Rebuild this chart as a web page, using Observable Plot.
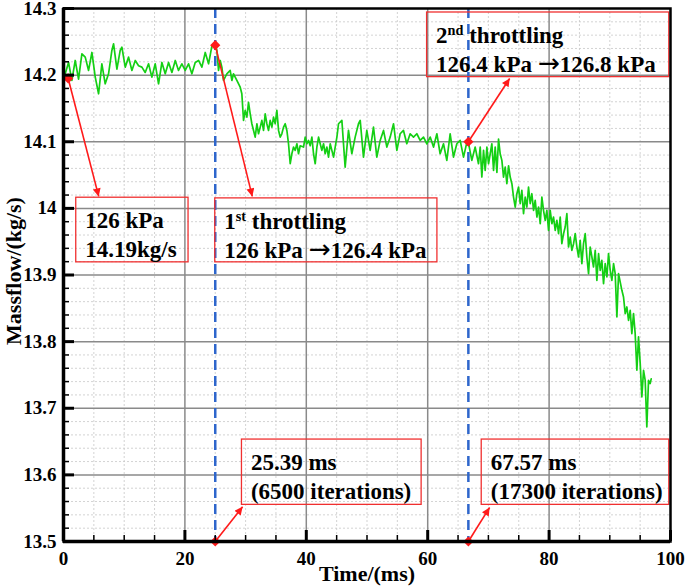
<!DOCTYPE html>
<html>
<head>
<meta charset="utf-8">
<script src="https://cdn.jsdelivr.net/npm/d3@7"></script>
<script src="https://cdn.jsdelivr.net/npm/@observablehq/plot@0.6"></script>
<style>
  body { margin: 0; background: #fff; }
</style>
</head>
<body>
<div id="chart"></div>
<script>
// ---- series: mass flow vs time ----
const time = [
  0.00, 0.28, 0.83, 1.38, 1.93, 2.48, 3.03, 3.58, 4.13, 4.68, 5.23, 5.78, 6.32, 6.87, 7.42, 7.97, 8.25, 8.80, 9.34, 9.62,
  10.17, 10.72, 11.27, 11.82, 12.37, 12.91, 13.46, 14.01, 14.56, 15.11, 15.66, 16.21, 16.76, 17.31, 17.86, 18.41, 18.95, 19.50,
  20.05, 20.60, 21.15, 21.70, 22.25, 22.80, 23.35, 23.90, 24.45,
  25.00, 25.27, 25.54, 25.82, 26.09, 26.36, 26.91, 27.46, 27.74, 28.01, 28.56, 29.11, 29.38, 29.66, 29.93, 30.21, 30.48, 30.76,
  31.03, 31.31, 31.58, 31.86, 32.13, 32.41, 32.68, 32.95, 33.23, 33.50, 33.78, 34.05, 34.33, 34.60, 34.88, 35.15, 35.43, 35.70,
  35.97, 36.25, 36.52, 36.80, 37.07, 37.35, 37.62, 37.90, 38.17, 38.45, 38.72, 38.99, 39.54, 39.82, 40.09, 40.37, 40.64, 40.92,
  41.19, 41.47, 41.74, 42.02, 42.29, 42.56, 42.84, 43.11, 43.39, 43.66, 43.94, 44.21, 44.49, 44.76, 45.04, 45.31,
  45.86, 46.40, 46.95, 47.50, 48.05, 48.60, 48.88, 49.42, 49.97, 50.52, 51.07, 51.62, 52.17, 52.72, 53.27, 53.82, 54.37, 54.92,
  55.46, 56.01, 56.56, 57.11, 57.66, 58.21, 58.76, 59.31, 59.86, 60.41, 60.96, 61.51, 62.05, 62.60, 63.15, 63.70, 64.25, 64.80,
  65.35, 65.90, 66.45, 66.72, 67.27, 67.82, 68.37,
  68.65, 68.92, 69.20, 69.47, 69.75, 70.02, 70.30, 70.57, 70.85, 71.12, 71.40, 71.67, 71.94, 72.22, 72.49, 72.77, 73.04, 73.32,
  73.59, 73.87, 74.14, 74.42, 74.69, 74.97, 75.24, 75.51, 75.79, 76.06, 76.34, 76.61, 76.89, 77.16, 77.44, 77.71, 77.99, 78.26,
  78.54, 78.81, 79.08, 79.36, 79.63, 79.91, 80.18, 80.46, 80.73, 81.01, 81.28, 81.56, 81.83, 82.10, 82.38, 82.65, 82.93, 83.20,
  83.48, 83.75, 84.03, 84.30, 84.58, 84.85, 85.12, 85.40, 85.67, 85.95, 86.22, 86.50,
  86.77, 87.05, 87.32, 87.60, 87.87, 88.15, 88.42, 88.69, 88.97, 89.24, 89.52, 89.79, 90.07, 90.34, 90.62, 90.89, 91.17, 91.44,
  91.99, 92.26, 92.54, 92.81, 93.09, 93.36, 93.63, 93.91, 94.18, 94.46, 94.73, 95.01, 95.28, 95.56, 95.83, 96.10, 96.38, 96.65, 96.82
];
const massflow = [
  14.198, 14.202, 14.219, 14.192, 14.222, 14.194, 14.232, 14.227, 14.207, 14.234, 14.197, 14.172, 14.217, 14.187, 14.202, 14.237, 14.247, 14.209, 14.237, 14.242,
  14.212, 14.227, 14.207, 14.222, 14.214, 14.212, 14.204, 14.217, 14.197, 14.217, 14.187, 14.219, 14.202, 14.219, 14.204, 14.222, 14.207, 14.217,
  14.207, 14.217, 14.202, 14.219, 14.222, 14.212, 14.234, 14.217, 14.244,
  14.247, 14.237, 14.207, 14.222, 14.212, 14.192, 14.202, 14.207, 14.192, 14.202, 14.192, 14.182, 14.172, 14.132, 14.147, 14.137, 14.159, 14.142,
  14.127, 14.117, 14.107, 14.127, 14.112, 14.122, 14.132, 14.117, 14.142, 14.127, 14.117, 14.132, 14.122, 14.137, 14.127, 14.147, 14.117, 14.107,
  14.112, 14.122, 14.127, 14.117, 14.097, 14.067, 14.082, 14.092, 14.087, 14.097, 14.082, 14.094, 14.092, 14.107, 14.097, 14.102, 14.094, 14.107,
  14.082, 14.067, 14.092, 14.107, 14.097, 14.087, 14.097, 14.082, 14.092, 14.077, 14.097, 14.087, 14.077, 14.092, 14.107, 14.127,
  14.132, 14.062, 14.117, 14.082, 14.107, 14.127, 14.132, 14.077, 14.117, 14.087, 14.122, 14.077, 14.102, 14.117, 14.092, 14.107, 14.127, 14.087,
  14.112, 14.117, 14.097, 14.112, 14.107, 14.112, 14.102, 14.107, 14.097, 14.107, 14.092, 14.112, 14.082, 14.097, 14.072, 14.112, 14.077, 14.097,
  14.102, 14.077, 14.099, 14.098, 14.072, 14.092, 14.067,
  14.092, 14.047, 14.087, 14.057, 14.092, 14.067, 14.082, 14.097, 14.057, 14.092, 14.054, 14.104, 14.082, 14.072, 14.047, 14.062, 14.037, 14.064,
  14.047, 14.037, 14.017, 14.002, 14.022, 14.032, 14.007, 14.027, 13.992, 14.017, 14.002, 14.032, 14.007, 14.022, 13.997, 14.012, 13.987, 14.002,
  13.977, 14.017, 13.997, 13.982, 13.997, 13.967, 13.997, 13.977, 13.987, 13.967, 13.982, 13.962, 13.987, 13.947, 13.962, 13.972, 13.992, 13.942,
  13.957, 13.937, 13.947, 13.962, 13.942, 13.927, 13.952, 13.917, 13.947, 13.962, 13.927, 13.902,
  13.942, 13.927, 13.912, 13.937, 13.892, 13.932, 13.907, 13.922, 13.887, 13.917, 13.897, 13.932, 13.907, 13.892, 13.917, 13.902, 13.837, 13.902,
  13.877, 13.867, 13.842, 13.852, 13.832, 13.847, 13.812, 13.842, 13.812, 13.757, 13.807, 13.767, 13.717, 13.757, 13.742, 13.672, 13.742, 13.737, 13.744
];

// ---- axes ----
const xMajor = [0, 20, 40, 60, 80, 100];
const xTickLabels = ["0", "20", "40", "60", "80", "100"];
const yMajor = [13.5, 13.6, 13.7, 13.8, 13.9, 14.0, 14.1, 14.2, 14.3];
const yTickLabels = ["13.5", "13.6", "13.7", "13.8", "13.9", "14", "14.1", "14.2", "14.3"];
const xLabel = "Time/(ms)";
const yLabel = "Massflow/(kg/s)";

// ---- throttling instants (dashed lines) ----
const throttleTimes = [25.0, 66.7];

// ---- annotation boxes ----
const boxText = [
  "126 kPa\n14.19kg/s",
  "1st throttling\n126 kPa \u2192126.4 kPa",
  "2nd throttling\n126.4 kPa \u2192126.8 kPa",
  "25.39 ms\n(6500 iterations)",
  "67.57 ms\n(17300 iterations)"
];
const boxX1 = [2.1, 25.0, 59.9, 29.4, 68.9];
const boxX2 = [20.6, 61.6, 99.8, 59.0, 99.8];
const boxTop = [14.016, 14.015, 14.294, 13.653, 13.653];
const boxBottom = [13.919, 13.919, 14.197, 13.555, 13.555];

// ---- annotation arrows (from marked point to box) ----
const arrowX1 = [0.77, 25.0, 66.7, 25.0, 66.7];
const arrowY1 = [14.195, 14.245, 14.100, 13.500, 13.500];
const arrowX2 = [5.8, 31.1, 73.5, 29.5, 70.2];
const arrowY2 = [14.018, 14.018, 14.195, 13.552, 13.551];

// ---- build tables ----
const series = time.map((t, i) => ({time: t, massflow: massflow[i]}));
const boxes = boxText.map((s, i) => ({text: s, x1: boxX1[i], x2: boxX2[i], y1: boxTop[i], y2: boxBottom[i]}));
const arrows = arrowX1.map((x, i) => ({x1: x, y1: arrowY1[i], x2: arrowX2[i], y2: arrowY2[i]}));
const xMinor = d3.range(0, 101, 5).filter(v => v % 20 !== 0);
const yMinor = d3.range(0, 41).map(k => +(13.5 + k * 0.02).toFixed(2)).filter(v => Math.abs(v * 10 - Math.round(v * 10)) > 1e-6);
const xMajorInner = xMajor.slice(1, -1);
const yMajorInner = yMajor.slice(1, -1);

const FONT = "'Liberation Serif', 'Times New Roman', serif";
const RED = "#ff1a1a";

const plot = Plot.plot({
  width: 685,
  height: 587,
  marginLeft: 63,
  marginRight: 15,
  marginTop: 8,
  marginBottom: 46,
  style: {fontFamily: FONT, fontWeight: "bold", fontSize: "19px", background: "white", color: "black", overflow: "visible"},
  x: {domain: [0, 100], label: null},
  y: {domain: [13.5, 14.3], label: null},
  marks: [
    // minor grid
    Plot.gridX(xMinor, {stroke: "#c8c8c8", strokeOpacity: 1, strokeWidth: 0.8, strokeDasharray: "2,2"}),
    Plot.gridY(yMinor, {stroke: "#c8c8c8", strokeOpacity: 1, strokeWidth: 0.8, strokeDasharray: "2,2"}),
    // major grid
    Plot.gridX(xMajorInner, {stroke: "#8a8a8a", strokeOpacity: 1, strokeWidth: 1.5}),
    Plot.gridY(yMajorInner, {stroke: "#8a8a8a", strokeOpacity: 1, strokeWidth: 1.5}),
    // data line
    Plot.line(series, {x: "time", y: "massflow", stroke: "#14cf14", strokeWidth: 1.7}),
    // throttling lines
    Plot.ruleX(throttleTimes, {stroke: "#2e66cc", strokeWidth: 2.5, strokeDasharray: "10,6"}),
    // annotation boxes
    Plot.rect(boxes, {x1: "x1", x2: "x2", y1: "y1", y2: "y2", fill: "none", stroke: "#f03030", strokeWidth: 1.3}),
    Plot.text(boxes, {x: "x1", y: "y1", text: "text", textAnchor: "start", lineAnchor: "top", lineHeight: 1.25,
      dx: 9, dy: 10, fontSize: 23, fontWeight: "bold", fontFamily: FONT, fill: "black"}),
    // arrows
    Plot.link(arrows, {x1: "x1", y1: "y1", x2: "x2", y2: "y2", stroke: RED, strokeWidth: 1.6}),
    Plot.dot(arrows, {x: "x1", y: "y1", symbol: "diamond2", r: 4.6, fill: RED, stroke: "none"}),
    // frame
    Plot.frame({stroke: "black", strokeWidth: 2.5}),
    Plot.ruleX([0], {stroke: "black", strokeWidth: 3.5}),
    Plot.ruleY([13.5], {stroke: "black", strokeWidth: 3.5}),
    // inward ticks
    Plot.axisY(yMajor, {label: null, tickSize: 11, dx: 11, strokeWidth: 3, tickFormat: () => ""}),
    Plot.axisY(yMinor, {label: null, tickSize: 6, dx: 6, strokeWidth: 1.5, tickFormat: () => ""}),
    Plot.axisX(xMajor, {label: null, tickSize: 11, dy: -11, strokeWidth: 3, tickFormat: () => ""}),
    Plot.axisX(xMinor, {label: null, tickSize: 6, dy: -6, strokeWidth: 1.5, tickFormat: () => ""}),
    // tick labels
    Plot.axisY(yMajor, {label: null, tickSize: 0, tickPadding: 7, fontSize: 19, fontWeight: "bold",
      tickFormat: d => yTickLabels[yMajor.indexOf(d)]}),
    Plot.axisX(xMajor, {label: null, tickSize: 0, tickPadding: 10, fontSize: 19, fontWeight: "bold",
      tickFormat: d => xTickLabels[xMajor.indexOf(d)]}),
    // axis titles
    Plot.text([xLabel], {text: d => d, frameAnchor: "bottom", textAnchor: "middle", lineAnchor: "middle",
      dy: 32, fontSize: 22, fontWeight: "bold", fontFamily: FONT}),
    Plot.text([yLabel], {text: d => d, frameAnchor: "left", textAnchor: "middle", lineAnchor: "middle", rotate: -90,
      dx: -50, dy: -4, fontSize: 22, fontWeight: "bold", fontFamily: FONT})
  ]
});

// arrowheads as an SVG marker on the link paths
const ns = "http://www.w3.org/2000/svg";
const defs = document.createElementNS(ns, "defs");
const marker = document.createElementNS(ns, "marker");
marker.setAttribute("id", "ahead");
marker.setAttribute("viewBox", "0 0 10 10");
marker.setAttribute("refX", "10");
marker.setAttribute("refY", "5");
marker.setAttribute("markerWidth", "11");
marker.setAttribute("markerHeight", "8");
marker.setAttribute("markerUnits", "userSpaceOnUse");
marker.setAttribute("orient", "auto");
const mp = document.createElementNS(ns, "path");
mp.setAttribute("d", "M0,0L10,5L0,10Z");
mp.setAttribute("fill", RED);
marker.appendChild(mp);
defs.appendChild(marker);
plot.insertBefore(defs, plot.firstChild);
plot.querySelectorAll('g[aria-label="link"] path, g[aria-label="link"] line').forEach(p => p.setAttribute("marker-end", "url(#ahead)"));

// superscripts for "1st" / "2nd", and a wider arrow glyph
plot.querySelectorAll("tspan, text").forEach(el => {
  if (el.childElementCount) return;
  const s = el.textContent;
  const m = /^(\d)(st|nd)( throttling)$/.exec(s);
  if (m) {
    el.textContent = "";
    el.appendChild(document.createTextNode(m[1]));
    const sup = document.createElementNS(ns, "tspan");
    sup.setAttribute("font-size", "0.62em");
    sup.setAttribute("baseline-shift", "super");
    sup.textContent = m[2];
    el.appendChild(sup);
    el.appendChild(document.createTextNode(m[3]));
    return;
  }
  const k = s.indexOf("\u2192");
  if (k >= 0) {
    el.textContent = "";
    el.appendChild(document.createTextNode(s.slice(0, k)));
    const ar = document.createElementNS(ns, "tspan");
    ar.setAttribute("font-family", "'DejaVu Sans', sans-serif");
    ar.setAttribute("font-weight", "normal");
    ar.setAttribute("font-size", "1.15em");
    ar.textContent = "\u2192";
    el.appendChild(ar);
    el.appendChild(document.createTextNode(s.slice(k + 1)));
  }
});

document.getElementById("chart").appendChild(plot);
</script>
</body>
</html>
